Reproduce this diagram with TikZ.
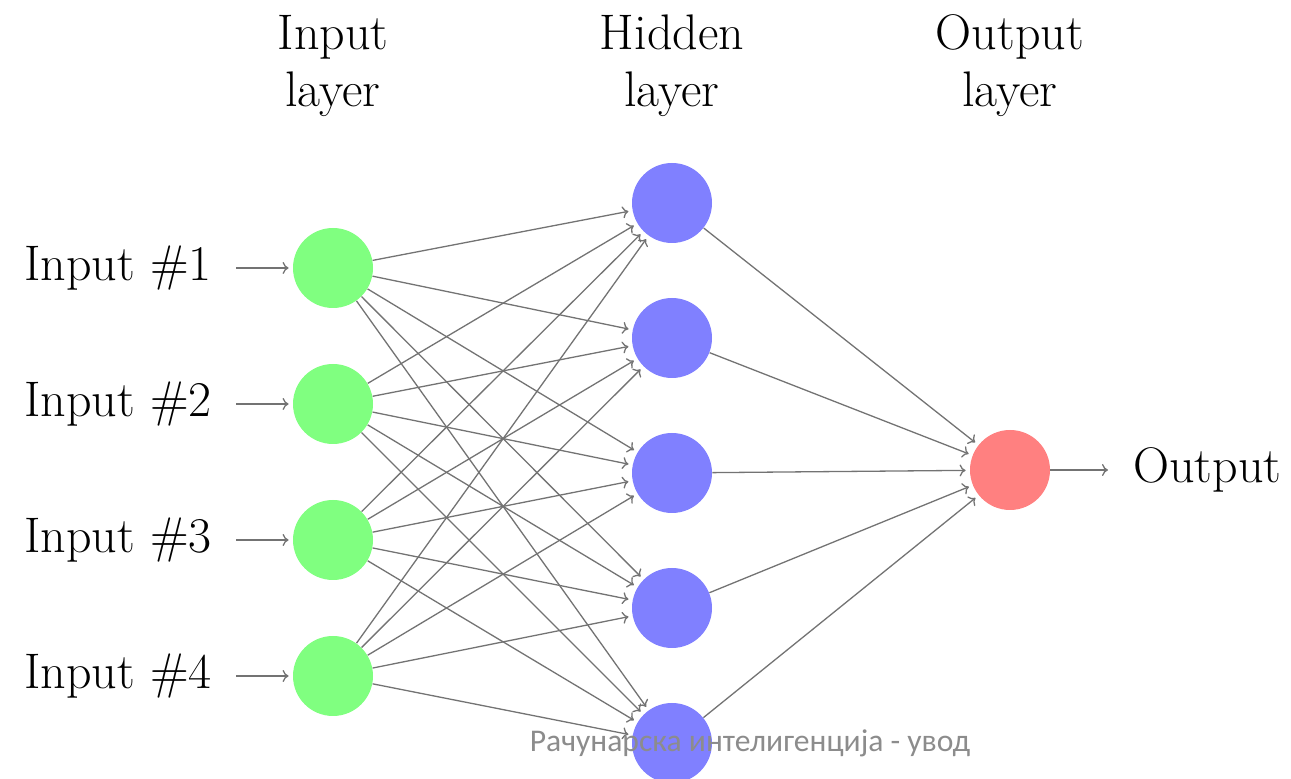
\documentclass[tikz,border=0pt]{standalone}
\usepackage{fontspec}
\newfontfamily\footfont{Carlito}
\usetikzlibrary{arrows.meta}
\begin{document}
\begin{tikzpicture}[x=0.5pt,y=-0.5pt,
  neuron/.style={circle, minimum size=40pt, inner sep=0pt},
  inneuron/.style={neuron, fill=green!50},
  hidneuron/.style={neuron, fill=blue!50},
  outneuron/.style={neuron, fill=red!50},
  conn/.style={-{To[length=3pt,width=6pt]}, draw=black!55, line width=0.65pt, shorten >=2pt},
  lbl/.style={font=\fontsize{25}{28.5}\selectfont, inner sep=0pt},
  pinlbl/.style={lbl, inner xsep=12pt},
  outlbl/.style={lbl, inner xsep=10.5pt},
  footer/.style={font=\footfont\fontsize{15.8}{18}\selectfont, text=black!45, inner sep=0pt}]
\clip (0,0) rectangle (1291,779);
\useasboundingbox (0,0) rectangle (1291,779);
% input layer
\foreach \i in {1,...,4}{
  \node[inneuron] (I-\i) at (333,{268+136*(\i-1)}) {};
  \node[pinlbl, anchor=east] (L-\i) at (236,{268+136*(\i-1)}) {Input \#\i};
  \draw[conn] (L-\i) -- (I-\i);
}
% hidden layer
\foreach \j in {1,...,5}{
  \node[hidneuron] (H-\j) at (672,{203+135*(\j-1)}) {};
}
% output
\node[outneuron] (O) at (1010,470) {};
\node[outlbl, anchor=west] (OL) at (1112,470) {Output};
\draw[conn] (O) -- (OL);
% connections
\foreach \i in {1,...,4}
  \foreach \j in {1,...,5}
    \draw[conn] (I-\i) -- (H-\j);
\foreach \j in {1,...,5}
  \draw[conn] (H-\j) -- (O);
% layer labels
\node[lbl, align=center, anchor=base] (TI) at (333,107) {Input\\layer};
\node[lbl, align=center, anchor=base] (TH) at (672,107) {Hidden\\layer};
\node[lbl, align=center, anchor=base] (TO) at (1010,107) {Output\\layer};
% footer
\node[footer, anchor=base] (F) at (750,752) {Рачунарска интелигенција - увод};
\end{tikzpicture}
\end{document}
